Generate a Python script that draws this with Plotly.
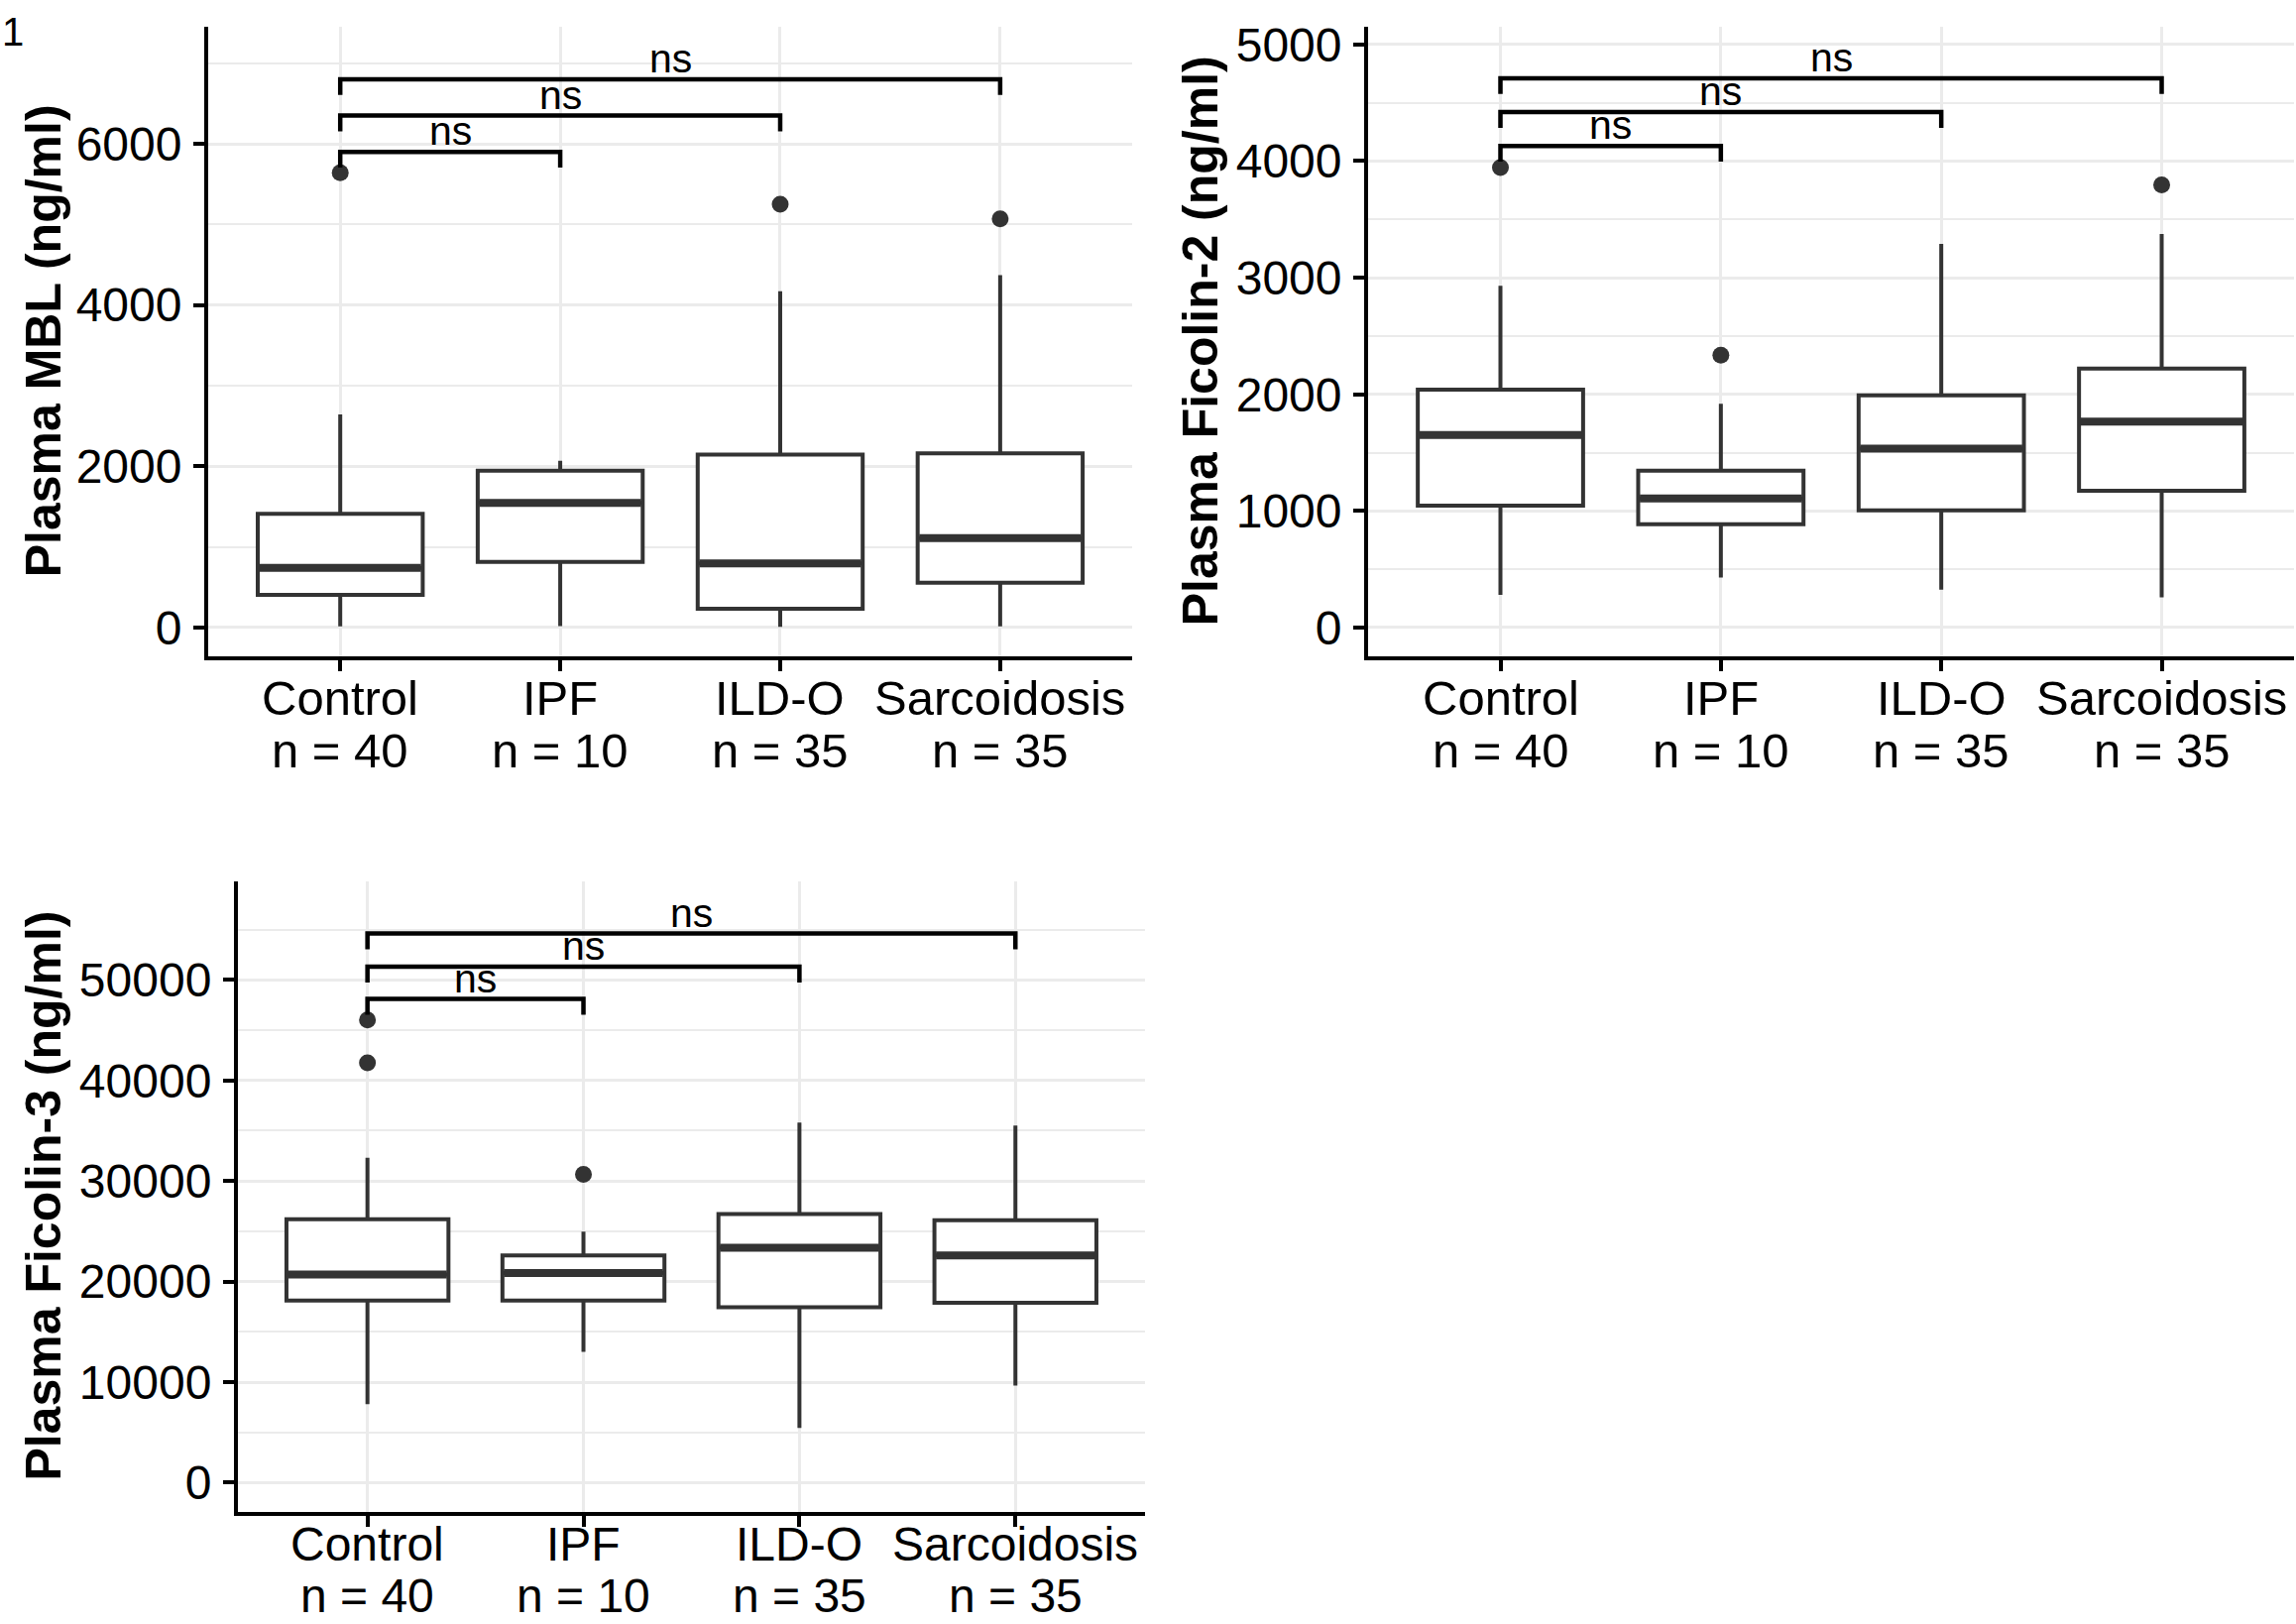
import plotly.graph_objects as go

# groups and sample sizes
groups = ["Control", "IPF", "ILD-O", "Sarcoidosis"]
n_counts = [40, 10, 35, 35]

# Plasma MBL (ng/ml)
mbl_q1 = [405, 815, 235, 555]
mbl_median = [740, 1545, 795, 1110]
mbl_q3 = [1410, 1945, 2145, 2162]
mbl_low = [15, 20, 10, 15]
mbl_high = [2645, 2070, 4170, 4370]
mbl_out_group = ["Control", "ILD-O", "Sarcoidosis"]
mbl_out_value = [5640, 5250, 5070]
mbl_bracket_y = [5900, 6350, 6800]

# Plasma Ficolin-2 (ng/ml)
fcn2_q1 = [1045, 885, 1005, 1172]
fcn2_median = [1650, 1108, 1535, 1765]
fcn2_q3 = [2040, 1345, 1992, 2220]
fcn2_low = [280, 430, 325, 260]
fcn2_high = [2930, 1918, 3290, 3375]
fcn2_out_group = ["Control", "IPF", "Sarcoidosis"]
fcn2_out_value = [3945, 2335, 3795]
fcn2_bracket_y = [4130, 4420, 4710]

# Plasma Ficolin-3 (ng/ml)
fcn3_q1 = [18100, 18100, 17450, 17900]
fcn3_median = [20700, 20850, 23350, 22600]
fcn3_q3 = [26200, 22600, 26700, 26100]
fcn3_low = [7800, 13000, 5450, 9650]
fcn3_high = [32300, 24950, 35800, 35500]
fcn3_out_group = ["Control", "Control", "IPF"]
fcn3_out_value = [46000, 41750, 30650]
fcn3_bracket_y = [48100, 51300, 54600]

# comparisons (all vs Control)
comparisons = [("Control", "IPF"), ("Control", "ILD-O"), ("Control", "Sarcoidosis")]
p_labels = ["ns", "ns", "ns"]

FONT = "Liberation Sans, Arial, sans-serif"
BOX_COL = "#333333"
GRID = "#EBEBEB"
W, H = 2316, 1638

fig = go.Figure()
annotations = []

pos = {g: i + 1 for i, g in enumerate(groups)}

panels = [
    dict(sfx="", title="Plasma MBL (ng/ml)", q1=mbl_q1, med=mbl_median, q3=mbl_q3,
         lo=mbl_low, hi=mbl_high, og=mbl_out_group, ov=mbl_out_value, by=mbl_bracket_y,
         xdom=[0.0907, 0.4931], ydom=[0.5989, 0.9884], yr=[-354, 7452], dt=2000,
         title_x=44 / W, lab_shift=(-42, -95), lab_size=49),
    dict(sfx="2", title="Plasma Ficolin-2 (ng/ml)", q1=fcn2_q1, med=fcn2_median, q3=fcn2_q3,
         lo=fcn2_low, hi=fcn2_high, og=fcn2_out_group, ov=fcn2_out_value, by=fcn2_bracket_y,
         xdom=[0.5959, 0.9991], ydom=[0.5989, 0.9884], yr=[-245, 5152], dt=1000,
         title_x=1211 / W, lab_shift=(-42, -95), lab_size=49),
    dict(sfx="3", title="Plasma Ficolin-3 (ng/ml)", q1=fcn3_q1, med=fcn3_median, q3=fcn3_q3,
         lo=fcn3_low, hi=fcn3_high, og=fcn3_out_group, ov=fcn3_out_value, by=fcn3_bracket_y,
         xdom=[0.1036, 0.4987], ydom=[0.0696, 0.4597], yr=[-2866, 59814], dt=10000,
         title_x=44 / W, lab_shift=(-33, -85), lab_size=48),
]

for p in panels:
    xa, ya = "x" + p["sfx"], "y" + p["sfx"]
    xs = [pos[g] for g in groups]

    # boxes
    fig.add_trace(go.Box(
        x=xs, q1=p["q1"], median=p["med"], q3=p["q3"],
        lowerfence=p["lo"], upperfence=p["hi"],
        width=0.75, boxpoints=False, fillcolor="white",
        line=dict(color=BOX_COL, width=4), whiskerwidth=0,
        xaxis=xa, yaxis=ya, showlegend=False, hoverinfo="skip"))
    # thick median line
    fig.add_trace(go.Box(
        x=xs, q1=p["med"], median=p["med"], q3=p["med"],
        lowerfence=p["med"], upperfence=p["med"],
        width=0.735, boxpoints=False, fillcolor="rgba(0,0,0,0)",
        line=dict(color=BOX_COL, width=8), whiskerwidth=0,
        xaxis=xa, yaxis=ya, showlegend=False, hoverinfo="skip"))
    # outliers
    fig.add_trace(go.Scatter(
        x=[pos[g] for g in p["og"]], y=p["ov"], mode="markers",
        marker=dict(color=BOX_COL, size=17),
        xaxis=xa, yaxis=ya, showlegend=False, hoverinfo="skip"))

    # significance brackets
    tip = 0.025 * (p["yr"][1] - p["yr"][0])
    for (a, b), yb, lab in zip(comparisons, p["by"], p_labels):
        xa_, xb_ = pos[a], pos[b]
        fig.add_trace(go.Scatter(
            x=[xa_, xa_, xb_, xb_], y=[yb - tip, yb, yb, yb - tip],
            mode="lines", line=dict(color="black", width=4.5),
            xaxis=xa, yaxis=ya, showlegend=False, hoverinfo="skip"))
        annotations.append(dict(
            x=(xa_ + xb_) / 2, y=yb, xref=xa, yref=ya, text=lab,
            showarrow=False, yanchor="bottom", yshift=-4,
            font=dict(family=FONT, size=41, color="black")))

    # two-line category labels: name, then sample size
    for g, n in zip(groups, n_counts):
        for txt, dy in ((g, p["lab_shift"][0]), (f"n = {n}", p["lab_shift"][1])):
            annotations.append(dict(
                x=pos[g], y=p["ydom"][0], xref=xa, yref="paper",
                text=txt, showarrow=False, xanchor="center", yanchor="middle",
                yshift=dy, borderpad=0,
                font=dict(family=FONT, size=p["lab_size"], color="black")))

    # y axis title
    annotations.append(dict(
        x=p["title_x"], y=sum(p["ydom"]) / 2, xref="paper", yref="paper",
        text=f"<b>{p['title']}</b>", textangle=-90, showarrow=False,
        xanchor="center", yanchor="middle",
        font=dict(family=FONT, size=50, color="black")))

    fig.update_layout(**{
        "xaxis" + p["sfx"]: dict(
            domain=p["xdom"], anchor=ya, range=[0.4, 4.6],
            tickmode="array", tickvals=xs, showticklabels=False,
            showgrid=True, gridcolor=GRID, gridwidth=3, zeroline=False,
            showline=True, linecolor="black", linewidth=4,
            ticks="outside", ticklen=11, tickwidth=4, tickcolor="black"),
        "yaxis" + p["sfx"]: dict(
            domain=p["ydom"], anchor=xa, range=p["yr"],
            tickmode="linear", tick0=0, dtick=p["dt"], tickformat="d",
            showgrid=True, gridcolor=GRID, gridwidth=3, zeroline=False,
            minor=dict(dtick=p["dt"] / 2, tick0=0, showgrid=True,
                       gridcolor=GRID, gridwidth=2),
            showline=True, linecolor="black", linewidth=4,
            ticks="outside", ticklen=11, tickwidth=4, tickcolor="black",
            ticklabelstandoff=2,
            tickfont=dict(family=FONT, size=48, color="black")),
    })

# panel tag
annotations.append(dict(
    x=0.0, y=1.0, xref="paper", yref="paper", text="1", showarrow=False,
    xanchor="left", yanchor="top", font=dict(family=FONT, size=40, color="black")))

fig.update_layout(
    width=W, height=H, autosize=False,
    margin=dict(l=0, r=0, t=0, b=0),
    paper_bgcolor="white", plot_bgcolor="white",
    boxmode="overlay", showlegend=False,
    annotations=annotations,
)

fig.write_html("out.html", config={"displayModeBar": False},
               post_script="document.body.style.margin='0';")
